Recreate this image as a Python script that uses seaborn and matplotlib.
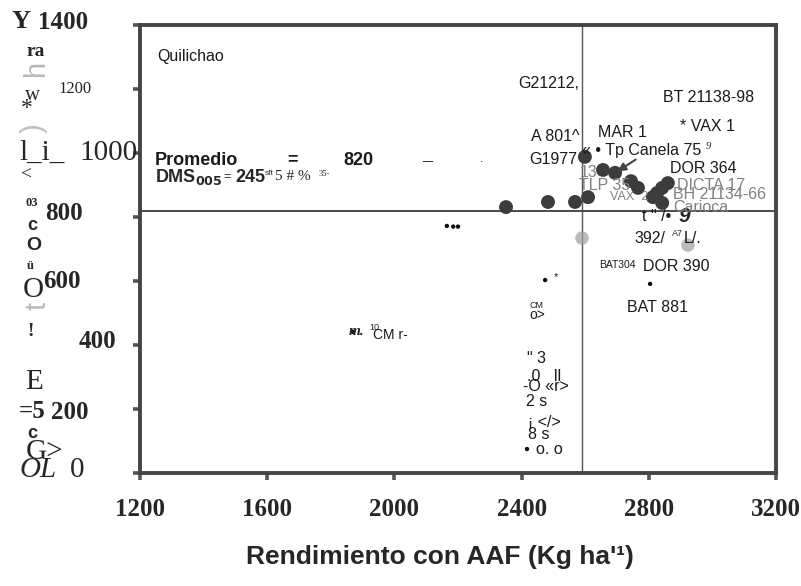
import matplotlib
matplotlib.use("Agg")
import matplotlib.pyplot as plt
import seaborn as sns
import pandas as pd

# ---------------- data ----------------
big_x = [2351, 2483, 2568, 2609, 2599, 2656, 2694, 2744, 2766, 2813, 2826, 2842, 2860, 2842]
big_y = [831, 847, 847, 862, 988, 947, 938, 912, 891, 862, 875, 891, 906, 844]
faint_x = [2923, 2590]
faint_y = [712, 734]
small_x = [2804, 2165, 2185, 2200, 2417, 2474, 1870]
small_y = [591, 772, 770, 770, 75, 603, 441]

mean_x = 2590
mean_y = 820

xticks = [1200, 1600, 2000, 2400, 2800, 3200]
yticks = [0, 200, 400, 600, 800, 1000, 1200, 1400]

xlabel = "Rendimiento con AAF (Kg ha'¹)"

# ---------------- style ----------------
sns.set_theme(style="white")
plt.rcParams['font.family'] = ['Liberation Sans', 'DejaVu Sans']

W, H = 801, 586
fig = plt.figure(figsize=(W / 100, H / 100), dpi=100)
ax = fig.add_axes([140 / W, 1 - 473 / H, 636 / W, 448 / H])

df_big = pd.DataFrame({"x": big_x, "y": big_y})
df_faint = pd.DataFrame({"x": faint_x, "y": faint_y})
df_small = pd.DataFrame({"x": small_x, "y": small_y})

ax.axvline(mean_x, color="#555555", lw=1.0, zorder=1)
ax.axhline(mean_y, color="#4a4a4a", lw=1.4, zorder=1)

sns.scatterplot(data=df_big, x="x", y="y", ax=ax, s=100, color="#3c3c3c",
                edgecolor="none", zorder=3)
sns.scatterplot(data=df_faint, x="x", y="y", ax=ax, s=95, color="#a0a0a0",
                edgecolor="none", alpha=0.7, zorder=3)
sns.scatterplot(data=df_small, x="x", y="y", ax=ax, s=10, color="#111111",
                edgecolor="none", zorder=3)

ax.set_xlim(1200, 3200)
ax.set_ylim(0, 1400)
ax.set_xticks(xticks)
ax.set_yticks(yticks)
ax.set_yticklabels([])
ax.set_xticklabels([str(v) for v in xticks], fontfamily="Liberation Serif",
                   fontweight="bold", fontsize=18)
ax.tick_params(axis="both", direction="out", length=5, width=2.6,
               color="#555555", bottom=True, left=True)
ax.tick_params(axis="x", pad=13)
for s in ax.spines.values():
    s.set_color("#444444")
    s.set_linewidth(2.8)
ax.set_xlabel(xlabel, fontsize=19, fontweight="bold")
ax.xaxis.set_label_coords((440 - 140) / 636, (473 - 557) / 448)
ax.xaxis.label.set_verticalalignment("center")
ax.set_ylabel("")

# y tick labels (drawn on the y-axis transform, with the scan's odd offsets)
ytr = ax.get_yaxis_transform()
serif = "Liberation Serif"
ytl = [
    (1400, 1408, 88, "bold", 18),
    (1200, 1200, 92, "normal", 12),
    (1000, 1000, 138, "normal", 21),
    (800, 810, 83, "bold", 18),
    (600, 600, 81, "bold", 18),
    (400, 410, 116, "bold", 18),
    (200, 190, 88, "bold", 18),
    (0, 8, 84, "normal", 21),
]
for val, ypos, xr, wt, fs in ytl:
    ax.text((xr - 140) / 636, ypos, str(val), transform=ytr, ha="right",
            va="center", fontfamily=serif, fontweight=wt, fontsize=fs,
            clip_on=False)

# scanned garble along the y-axis (figure pixel coords)
def ftext(px, py, s, **kw):
    fig.text(px / W, 1 - py / H, s, va="center", **kw)

ftext(12, 22, "Y", fontfamily=serif, fontweight="bold", fontsize=19)
ftext(27, 52, "ra", fontfamily=serif, fontweight="bold", fontsize=14)
ftext(25, 95, "w", fontfamily=serif, fontsize=15)
ftext(21, 108, "*", fontfamily=serif, fontsize=17)
ftext(19, 153, "l_i_", fontfamily=serif, fontsize=21)
ftext(21, 175, "<", fontfamily=serif, fontsize=14)
ftext(25, 203, "03", fontfamily=serif, fontweight="bold", fontsize=9)
ftext(27, 226, "c", fontweight="bold", fontsize=13)
ftext(26, 245, "O", fontweight="bold", fontsize=14)
ftext(27, 266, "ü", fontfamily=serif, fontweight="bold", fontsize=9)
ftext(23, 290, "O", fontfamily=serif, fontsize=21)
ftext(27, 332, "!", fontfamily=serif, fontweight="bold", fontsize=14)
ftext(25, 382, "E", fontfamily=serif, fontsize=21)
ftext(19, 412, "=5", fontfamily=serif, fontweight="bold", fontsize=18)
ftext(27, 433, "c", fontweight="bold", fontsize=13)
ftext(26, 452, "G>", fontfamily=serif, fontsize=21)
ftext(20, 470, "OL", fontfamily=serif, fontstyle="italic", fontsize=21)
ftext(22, 68, "h", color="#b8b8b8", fontsize=21, rotation=90)
ftext(20, 128, ")", color="#c0c0c0", fontsize=21, rotation=90)
ftext(24, 306, "t", color="#b8b8b8", fontsize=21, rotation=90)

# ---------------- labels inside the plot ----------------
labels = [
    ("Quilichao", 1253, 1300, "k", 11.5, "normal"),
    ("G21212,", 2389, 1216, "k", 11.5, "normal"),
    ("BT 21138-98", 2845, 1175, "k", 11.5, "normal"),
    ("* VAX 1", 2898, 1084, "k", 11.5, "normal"),
    ("A 801^", 2430, 1053, "k", 11.5, "normal"),
    ("MAR 1", 2640, 1063, "k", 11.5, "normal"),
    ("« • Tp Canela 75", 2590, 1009, "k", 11.5, "normal"),
    ("G1977", 2424, 981, "k", 11.5, "normal"),
    ("DOR 364", 2868, 953, "k", 11.5, "normal"),
    ("13", 2584, 938, "#808080", 11.5, "normal"),
    ("TLP 35", 2580, 900, "#808080", 11.5, "normal"),
    ("DICTA 17", 2889, 900, "#808080", 11.5, "normal"),
    ("VAX  2", 2679, 863, "#808080", 9, "normal"),
    ("BH 21134-66", 2876, 869, "#808080", 11.5, "normal"),
    ("Carioca", 2876, 831, "#808080", 11.5, "normal"),
    ('t " /•', 2778, 803, "k", 11.5, "normal"),
    ("392/", 2756, 734, "k", 11.5, "normal"),
    ("L/.", 2911, 734, "k", 11.5, "normal"),
    ("BAT304", 2643, 650, "k", 7.5, "normal"),
    ("DOR 390", 2782, 644, "k", 11.5, "normal"),
    ("BAT 881", 2731, 516, "k", 11.5, "normal"),
    ("Promedio", 1247, 978, "k", 13, "bold"),
    ("=", 1662, 978, "k", 13, "bold"),
    ("820", 1838, 978, "k", 13, "bold"),
    ("_", 2087, 992, "k", 13, "bold"),
    (".", 2269, 980, "k", 9, "normal"),
    ('" 3', 2417, 359, "k", 11.5, "normal"),
    (".0   ll", 2417, 303, "k", 11.5, "normal"),
    ("-O «r>", 2404, 269, "k", 11.5, "normal"),
    ("2 s", 2414, 225, "k", 11.5, "normal"),
    ("¡ </>", 2420, 159, "k", 11.5, "normal"),
    ("8 s", 2420, 119, "k", 11.5, "normal"),
    ("o. o", 2445, 75, "k", 11.5, "normal"),
    ("*", 2500, 612, "k", 8, "normal"),
    ("CM", 2424, 525, "k", 6.5, "normal"),
    ("o>", 2424, 494, "k", 10, "normal"),
    ("CM r-", 1934, 431, "k", 10, "normal"),
]
for txt, x, y, c, fs, wt in labels:
    ax.text(x, y, txt, color=c, fontsize=fs, fontweight=wt, va="center",
            ha="left", zorder=4)

ax.text(2980, 1021, "9", fontsize=7.5, fontstyle="italic", fontfamily=serif,
        va="center")
ax.text(2892, 803, "9", fontsize=15, fontweight="bold", fontstyle="italic",
        va="center")
ax.text(2874, 747, "A7", fontsize=6.5, va="center")
ax.text(1855, 441, "m.", fontsize=11, fontweight="bold", fontstyle="italic",
        fontfamily=serif, va="center")
ax.text(1922, 456, "10", fontsize=6.5, va="center")
ax.text(1247, 925, "DMS$_{\\mathbf{005}}$", fontsize=13, fontweight="bold",
        va="center")
ax.text(1461, 925, "=", fontsize=9, va="center")
ax.text(1499, 925, "245", fontsize=13, fontweight="bold", va="center")
ax.text(1593, 937, "sft", fontsize=6, va="center")
ax.text(1625, 925, "5 # %", fontsize=11, fontfamily=serif, va="center")
ax.text(1760, 933, "35-", fontsize=6, fontfamily=serif, va="center")

# arrow toward Tp Canela 75
ax.annotate("", xy=(2694, 938), xytext=(2766, 984),
            arrowprops=dict(arrowstyle="-|>", color="#444444", lw=1.5))

fig.savefig("out.png", dpi=100, facecolor="white")
